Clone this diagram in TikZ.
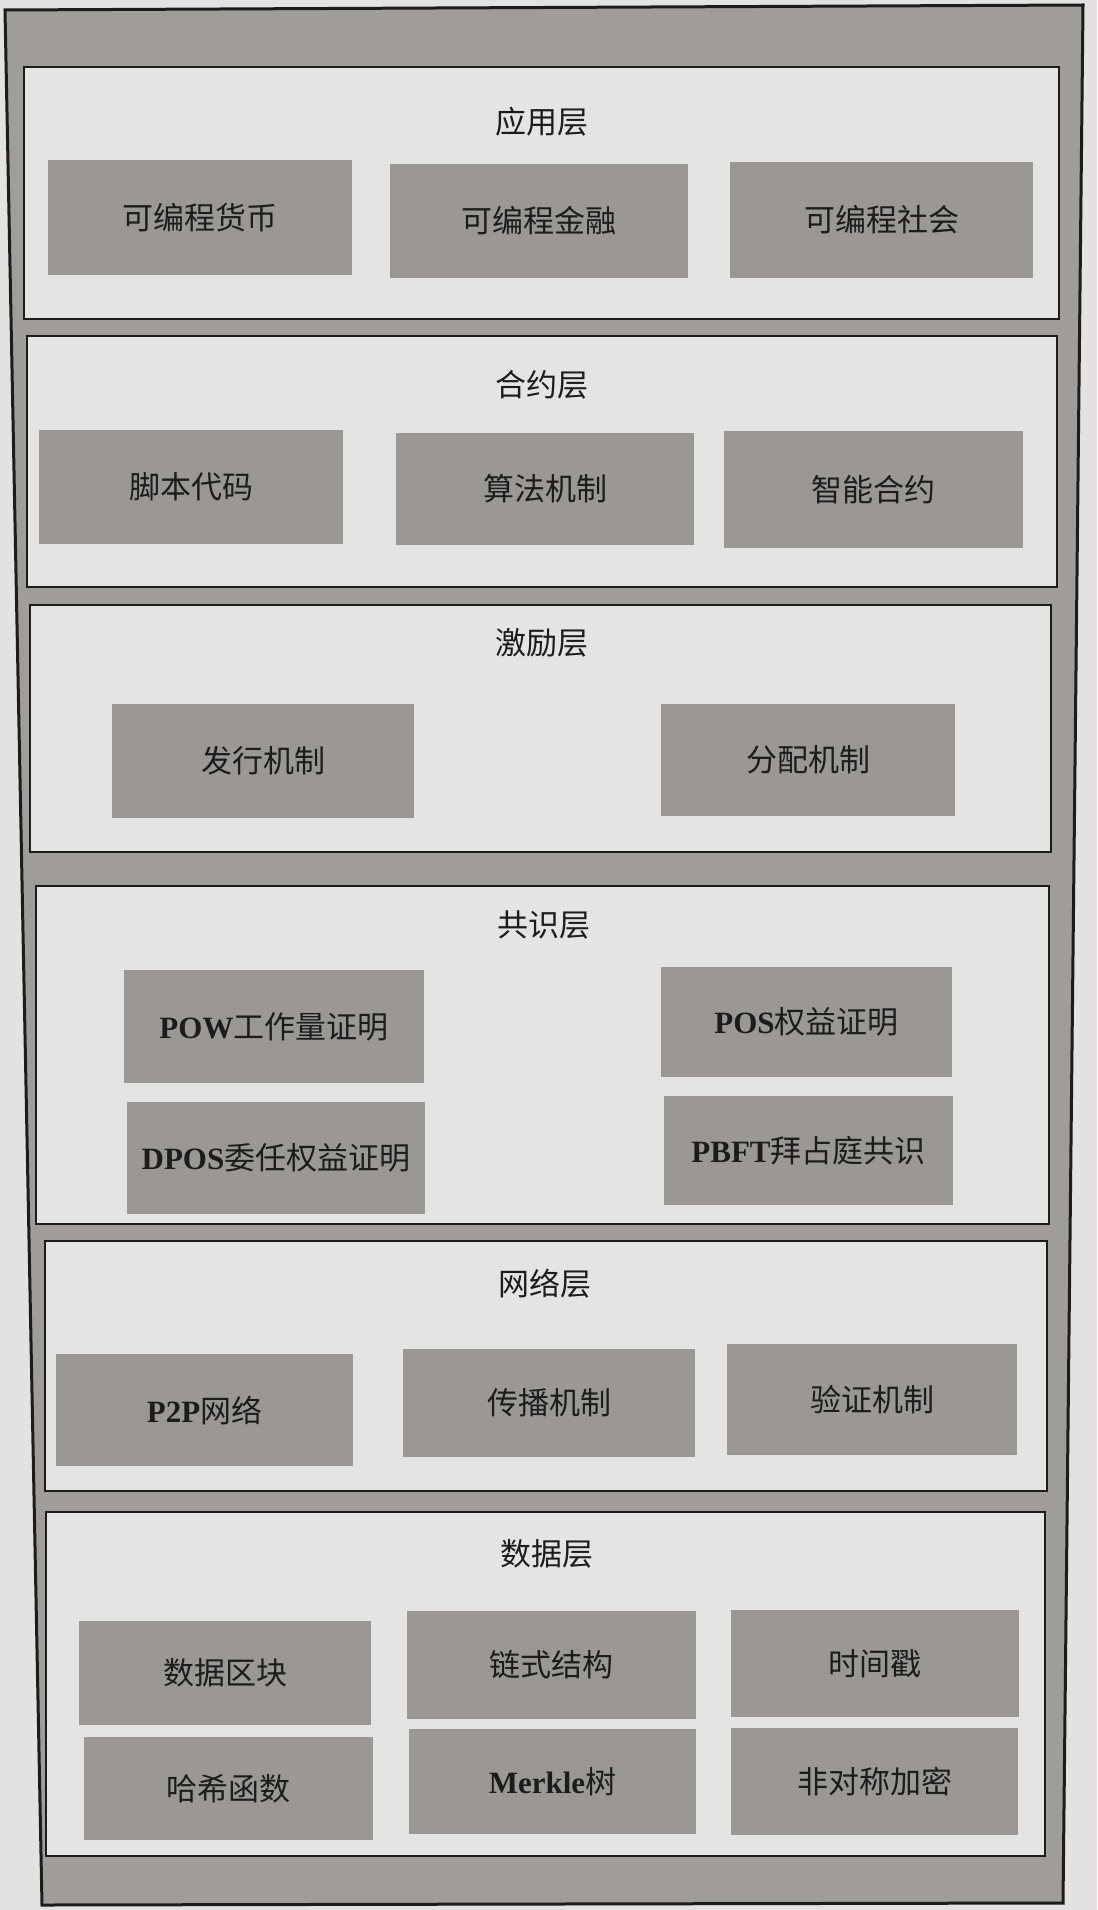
\documentclass[tikz,border=0pt]{standalone}
\usepackage{fontspec}
\setmainfont{Noto Sans CJK SC}
\newfontfamily\latb{Liberation Serif}
\usetikzlibrary{fit}
\definecolor{paper}{RGB}{228,226,224}
\definecolor{framefill}{RGB}{160,157,153}
\definecolor{layerfill}{RGB}{230,228,226}
\definecolor{cellfill}{RGB}{155,152,148}
\definecolor{ink}{RGB}{28,28,28}
\newcommand{\lb}[1]{{\latb\bfseries #1}}
\begin{document}
\begin{tikzpicture}[x=0.5pt,y=-0.5pt,
  layerbox/.style={draw=ink, line width=1pt, fill=layerfill, inner sep=0pt},
  cellbox/.style={fill=cellfill, inner sep=0pt},
  celltext/.style={text=ink, inner sep=0pt, font=\fontsize{15.5}{18}\selectfont},
  titletext/.style={text=ink, font=\fontsize{15.5}{18}\selectfont, inner sep=0pt}]
\useasboundingbox (0,0) rectangle (1097,1910);
\fill[paper] (0,0) rectangle (1097,1910);
% outer frame
\draw[draw=ink, line width=1.5pt, fill=framefill] (5,10) -- (1083,5) -- (1063,1903) -- (42,1905) -- cycle;

% layer 1
\node[layerbox, fit={(24,67) (1059,319)}] (L1) {};
\node[titletext] (T1) at (542,122) {应用层};
\node[cellbox, fit={(48,160) (352,275)}] (A1) {};
\node[celltext] at (A1.center) {可编程货币};
\node[cellbox, fit={(390,164) (688,278)}] (A2) {};
\node[celltext] at (A2.center) {可编程金融};
\node[cellbox, fit={(730,162) (1033,278)}] (A3) {};
\node[celltext] at (A3.center) {可编程社会};

% layer 2
\node[layerbox, fit={(27,336) (1057,587)}] (L2) {};
\node[titletext] (T2) at (542,385) {合约层};
\node[cellbox, fit={(39,430) (343,544)}] (B1) {};
\node[celltext] at (B1.center) {脚本代码};
\node[cellbox, fit={(396,433) (694,545)}] (B2) {};
\node[celltext] at (B2.center) {算法机制};
\node[cellbox, fit={(724,431) (1023,548)}] (B3) {};
\node[celltext] at (B3.center) {智能合约};

% layer 3
\node[layerbox, fit={(30,605) (1051,852)}] (L3) {};
\node[titletext] (T3) at (542,643) {激励层};
\node[cellbox, fit={(112,704) (414,818)}] (C1) {};
\node[celltext] at (C1.center) {发行机制};
\node[cellbox, fit={(661,704) (955,816)}] (C2) {};
\node[celltext] at (C2.center) {分配机制};

% layer 4
\node[layerbox, fit={(36,886) (1049,1224)}] (L4) {};
\node[titletext] (T4) at (544,925) {共识层};
\node[cellbox, fit={(124,970) (424,1083)}] (D1) {};
\node[celltext] at (D1.center) {\lb{POW}工作量证明};
\node[cellbox, fit={(661,967) (952,1077)}] (D2) {};
\node[celltext] at (D2.center) {\lb{POS}权益证明};
\node[cellbox, fit={(127,1102) (425,1214)}] (D3) {};
\node[celltext] at (D3.center) {\lb{DPOS}委任权益证明};
\node[cellbox, fit={(664,1096) (953,1205)}] (D4) {};
\node[celltext] at (D4.center) {\lb{PBFT}拜占庭共识};

% layer 5
\node[layerbox, fit={(45,1241) (1047,1491)}] (L5) {};
\node[titletext] (T5) at (545,1284) {网络层};
\node[cellbox, fit={(56,1354) (353,1466)}] (E1) {};
\node[celltext] at (E1.center) {\lb{P2P}网络};
\node[cellbox, fit={(403,1349) (695,1457)}] (E2) {};
\node[celltext] at (E2.center) {传播机制};
\node[cellbox, fit={(727,1344) (1017,1455)}] (E3) {};
\node[celltext] at (E3.center) {验证机制};

% layer 6
\node[layerbox, fit={(46,1512) (1045,1856)}] (L6) {};
\node[titletext] (T6) at (547,1554) {数据层};
\node[cellbox, fit={(79,1621) (371,1725)}] (F1) {};
\node[celltext] at (F1.center) {数据区块};
\node[cellbox, fit={(407,1611) (696,1719)}] (F2) {};
\node[celltext] at (F2.center) {链式结构};
\node[cellbox, fit={(731,1610) (1019,1717)}] (F3) {};
\node[celltext] at (F3.center) {时间戳};
\node[cellbox, fit={(84,1737) (373,1840)}] (F4) {};
\node[celltext] at (F4.center) {哈希函数};
\node[cellbox, fit={(409,1729) (696,1834)}] (F5) {};
\node[celltext] at (F5.center) {\lb{Merkle}树};
\node[cellbox, fit={(731,1728) (1018,1835)}] (F6) {};
\node[celltext] at (F6.center) {非对称加密};
\end{tikzpicture}
\end{document}
